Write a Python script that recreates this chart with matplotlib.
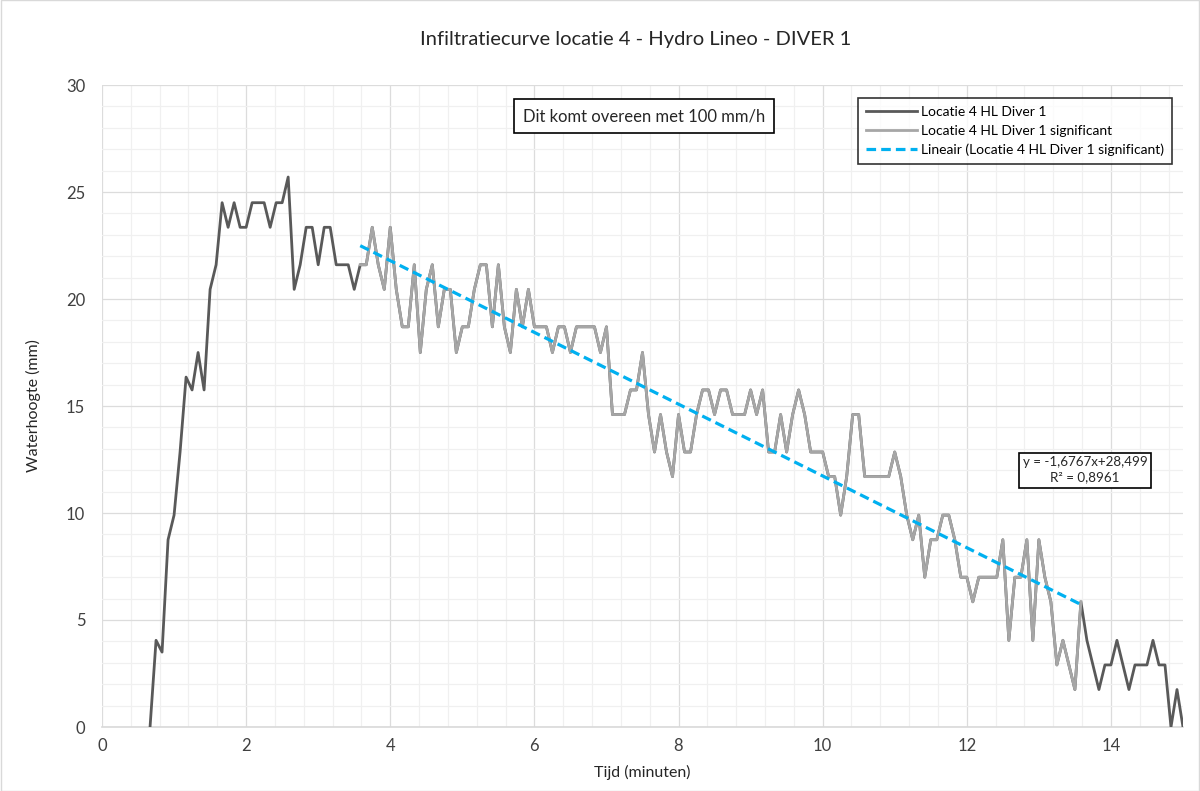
import numpy as np
import matplotlib
matplotlib.use("Agg")
import matplotlib.pyplot as plt
from matplotlib.ticker import MultipleLocator, AutoMinorLocator
from matplotlib.patches import Rectangle

plt.rcParams['font.family'] = ['Lato', 'DejaVu Sans']

# ---- data ----
sample_interval_s = 5
first_sample_s = 40
water_mm = [
    0, 4.05, 3.5, 8.75, 9.9, 12.85, 16.35, 15.75, 17.5, 15.75,
    20.45, 21.6, 24.5, 23.35, 24.5, 23.35, 23.35, 24.5, 24.5, 24.5,
    23.35, 24.5, 24.5, 25.7, 20.45, 21.6, 23.35, 23.35, 21.6, 23.35,
    23.35, 21.6, 21.6, 21.6, 20.45, 21.6, 21.6, 23.35, 21.6, 20.45,
    23.35, 20.45, 18.7, 18.7, 21.6, 17.5, 20.45, 21.6, 18.7, 20.45,
    20.45, 17.5, 18.7, 18.7, 20.45, 21.6, 21.6, 18.7, 21.6, 18.7,
    17.5, 20.45, 18.7, 20.45, 18.7, 18.7, 18.7, 17.5, 18.7, 18.7,
    17.5, 18.7, 18.7, 18.7, 18.7, 17.5, 18.7, 14.6, 14.6, 14.6,
    15.75, 15.75, 17.5, 14.6, 12.85, 14.6, 12.85, 11.7, 14.6, 12.85,
    12.85, 14.6, 15.75, 15.75, 14.6, 15.75, 15.75, 14.6, 14.6, 14.6,
    15.75, 14.6, 15.75, 12.85, 12.85, 14.6, 12.85, 14.6, 15.75, 14.6,
    12.85, 12.85, 12.85, 11.7, 11.7, 9.9, 11.7, 14.6, 14.6, 11.7,
    11.7, 11.7, 11.7, 11.7, 12.85, 11.7, 9.9, 8.75, 9.9, 7.0,
    8.75, 8.75, 9.9, 9.9, 8.75, 7.0, 7.0, 5.85, 7.0, 7.0,
    7.0, 7.0, 8.75, 4.05, 7.0, 7.0, 8.75, 4.05, 8.75, 7.0,
    5.85, 2.9, 4.05, 2.9, 1.75, 5.85, 4.05, 2.9, 1.75, 2.9,
    2.9, 4.05, 2.9, 1.75, 2.9, 2.9, 2.9, 4.05, 2.9, 2.9,
    0, 1.75, 0,
]
time_min = (first_sample_s + sample_interval_s * np.arange(len(water_mm))) / 60.0
water = np.array(water_mm)

sig_start_min = 215 / 60.0   # first significant sample
sig_end_min = 815 / 60.0     # last significant sample
trend_slope = -1.6767
trend_intercept = 28.499
r_squared = 0.8961

name_all = "Locatie 4 HL Diver 1"
name_sig = "Locatie 4 HL Diver 1 significant"
name_trend = "Lineair (Locatie 4 HL Diver 1 significant)"
title = "Infiltratiecurve locatie 4 - Hydro Lineo - DIVER 1"
note = "Dit komt overeen met 100 mm/h"
xlabel = "Tijd (minuten)"
ylabel = "Waterhoogte (mm)"

sig_mask = (time_min >= sig_start_min - 1e-9) & (time_min <= sig_end_min + 1e-9)

# ---- figure ----
fig = plt.figure(figsize=(12, 7.91), dpi=100)
ax = fig.add_axes([102/1200, 1-727/791, (1183-102)/1200, (727-85)/791])

ax.plot(time_min, water, color='#595959', lw=2.0, label=name_all, zorder=3)
ax.plot(time_min[sig_mask], water[sig_mask], color='#A6A6A6', lw=2.0, label=name_sig, zorder=4)
tx = np.array([time_min[sig_mask][0], time_min[sig_mask][-1]])
ax.plot(tx, trend_slope * tx + trend_intercept, color='#00B0F0', lw=2.3,
        ls=(0, (3, 1.6)), label=name_trend, zorder=5)

ax.set_xlim(0, 15)
ax.set_ylim(0, 30)
ax.xaxis.set_major_locator(MultipleLocator(2))
ax.xaxis.set_minor_locator(AutoMinorLocator(5))
ax.yaxis.set_major_locator(MultipleLocator(5))
ax.yaxis.set_minor_locator(AutoMinorLocator(5))
ax.grid(which='major', color='#DCDCDC', lw=0.9, zorder=0)
ax.grid(which='minor', color='#F0F0F0', lw=0.9, zorder=0)
ax.set_axisbelow(True)
for s in ['top', 'right', 'left']:
    ax.spines[s].set_visible(False)
ax.spines['bottom'].set_color('#D9D9D9')
ax.spines['bottom'].set_linewidth(1.2)
ax.tick_params(which='both', length=0, labelsize=12, colors='#404040', labelcolor='#404040')
ax.tick_params(axis='y', pad=12)
ax.tick_params(axis='x', pad=8)

ax.set_xlabel(xlabel, fontsize=11.5, color='#262626', labelpad=8)
ax.set_ylabel(ylabel, fontsize=11.5, color='#262626', labelpad=18)
fig.text(636/1200, 1-40/791, title, ha='center', va='center', fontsize=14.5, color='#262626')

ax.text(644/1200, 1-116/791, note, transform=fig.transFigure, ha='center', va='center',
        fontsize=12, color='#262626',
        bbox=dict(boxstyle='square,pad=0.55', fc='white', ec='black', lw=1.2), zorder=10)

eq = f"y = {str(trend_slope).replace('.', ',')}x+{str(trend_intercept).replace('.', ',')}"
eq2 = f"R\u00b2 = {str(r_squared).replace('.', ',')}"
ax.text(1085/1200, 1-470/791, eq + "\n" + eq2, transform=fig.transFigure, ha='center', va='center',
        fontsize=9.6, color='#262626', linespacing=1.3, multialignment='center',
        bbox=dict(boxstyle='square,pad=0.3', fc='white', ec='black', lw=1.2), zorder=10)

leg = ax.legend(loc='upper right', bbox_to_anchor=((1172-102)/1081, (727-98)/642),
                fontsize=10, frameon=True, fancybox=False, edgecolor='black',
                handlelength=3.7, borderpad=0.55, labelspacing=0.5, handletextpad=0.3,
                borderaxespad=0)
leg.get_frame().set_linewidth(1.2)
leg.set_zorder(10)

fig.patches.append(Rectangle((0.0005, 0.0005), 0.999, 0.999, transform=fig.transFigure,
                             fill=False, ec='#D9D9D9', lw=1.0))

fig.savefig('out.png', dpi=100, facecolor='white')
